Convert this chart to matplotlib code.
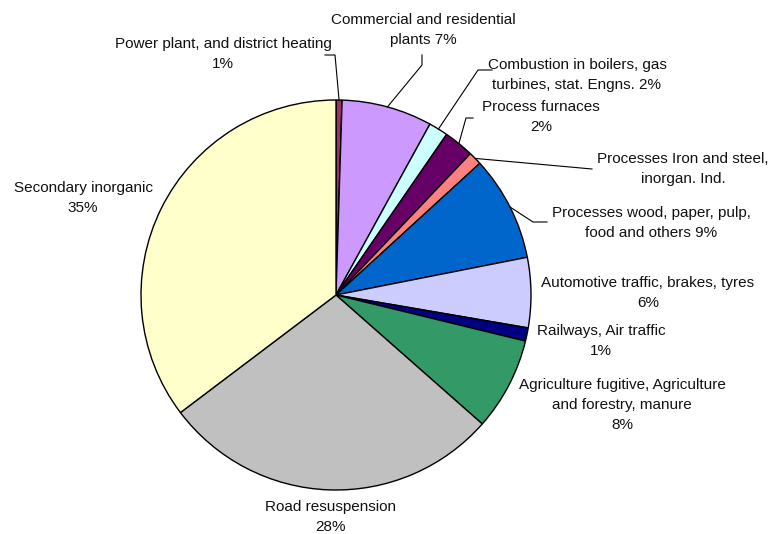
import numpy as np
import matplotlib
matplotlib.use('Agg')
import matplotlib.pyplot as plt

plt.rcParams['font.family'] = ['Liberation Sans', 'DejaVu Sans']

#Slice data (clockwise from 12 o'clock)
labels = ['Power plant, and district heating\n1%',
          'Commercial and residential\nplants 7%',
          'Combustion in boilers, gas\nturbines, stat. Engns. 2%',
          'Process furnaces\n2%',
          'Processes Iron and steel,\ninorgan. Ind.',
          'Processes wood, paper, pulp,\nfood and others 9%',
          'Automotive traffic, brakes, tyres\n6%',
          'Railways, Air traffic\n1%',
          'Agriculture fugitive, Agriculture\nand forestry, manure\n8%',
          'Road resuspension\n28%',
          'Secondary inorganic\n35%']
values = [0.5, 7.5, 1.6, 2.5, 1.1, 8.7, 5.8, 1.1, 7.7, 28.2, 35.3]
colors = ['#993366', '#CC99FF', '#CCFFFF', '#660066', '#FF8080', '#0066CC',
          '#CCCCFF', '#000080', '#339966', '#C0C0C0', '#FFFFCC']

#Layout in pixels (center of pie 336,295, radius 195)
cx, cy, R = 336, 295, 195
def px(x, y):
    return ((x-cx)/R, (cy-y)/R)

label_pos = [(223, 54), (423, 30), (577, 75), (541, 117), (683, 169), (651, 223),
             (648, 293), (601, 341), (622, 405), (330, 517), (83, 198)]
# leader line elbows (None = no leader)
leaders = [[(335, 55), (325, 55)],
           [(422, 65), (422, 55)],
           [(478, 70), (492, 70)],
           [(466, 118), (473, 118)],
           [(592, 169)],
           [(533, 222), (547, 222)],
           None, None, None, None, None]

fig = plt.figure(figsize=(7.72, 5.34), dpi=100)
ax = fig.add_axes([0, 0, 1, 1])
wedges, _ = ax.pie(values, colors=colors, startangle=90, counterclock=False,
                   radius=1, wedgeprops=dict(edgecolor='black', linewidth=1))

for w, lab, pos, ld in zip(wedges, labels, label_pos, leaders):
    tx, ty = px(*pos)
    ax.text(tx, ty, lab, ha='center', va='center', fontsize=11,
            linespacing=1.58, color='#111111')
    if ld is not None:
        mid = np.deg2rad((w.theta1 + w.theta2)/2)
        pts = [(np.cos(mid), np.sin(mid))] + [px(*p) for p in ld]
        pts = np.array(pts)
        ax.plot(pts[:, 0], pts[:, 1], color='black', linewidth=0.8)

ax.set_xlim((0-cx)/R, (772-cx)/R)
ax.set_ylim((cy-534)/R, cy/R)
ax.set_aspect('equal')
ax.axis('off')
fig.savefig('out.png', dpi=100)
